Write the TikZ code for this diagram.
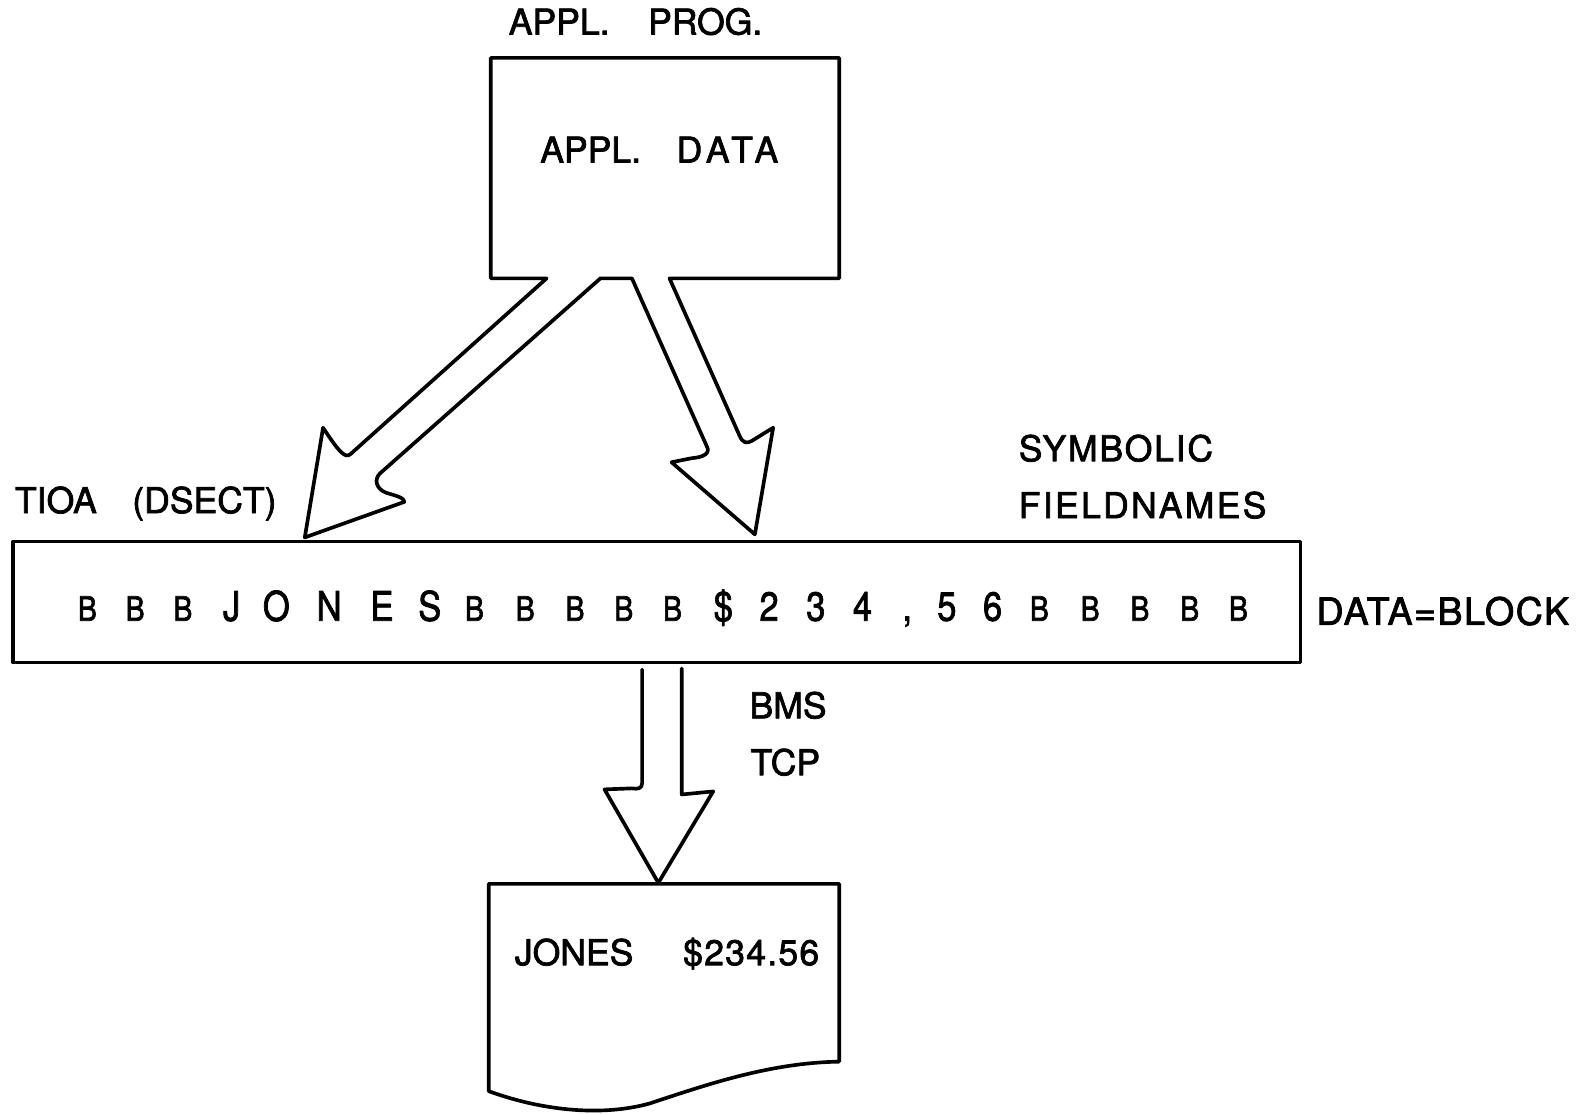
\documentclass[tikz,border=0pt]{standalone}
\usepackage{fontspec}
\setmainfont{TeX Gyre Heros}[FakeBold=2]
\usepackage{graphicx}
\newcommand{\spaced}[2]{{\addfontfeature{LetterSpace=#1}#2}}
\begin{document}
\begin{tikzpicture}[x=0.5pt,y=-0.5pt,line width=1.8pt,line join=round,line cap=round,
  lbl/.style={font=\fontsize{17.5}{20}\selectfont,inner sep=0pt,anchor=base west},
  bigch/.style={font=\fontsize{20}{22}\selectfont,inner sep=0pt,anchor=base},
  smallch/.style={font=\fontsize{16.5}{18}\selectfont,inner sep=0pt,anchor=base}]
\useasboundingbox[fill=white] (0,0) rectangle (1568,1096);

% application program box with the two hollow arrows leaving its bottom edge
\draw (538,274) -- (483,274) -- (483,57) -- (826,57) -- (826,274) -- (659,274)
  -- (728,429) .. controls (731,436) and (735,437) .. (740,434) -- (761,421)
  -- (743,526) -- (661,455) -- (681,451) .. controls (693,450) and (699,446) .. (696,440)
  -- (622,274) -- (591,274)
  -- (374,466) .. controls (368,472) and (370,481) .. (380,485)
  .. controls (390,488) and (398,490) .. (398,494)
  -- (300,529) -- (318,421) .. controls (335,447) and (340,451) .. (345,447) -- cycle;
\node[lbl] (progtitle) at (499,34) {APPL.\hspace{19pt}PROG.};
\node[lbl] (appldata) at (530,160) {APPL.\hspace{17.5pt}\spaced{14}{DATA}};

% data block
\draw (13,533) rectangle (1280,652);
\node[lbl] (tioa) at (13,505) {TIOA\hspace{17.5pt}(DSECT)};
\node[lbl] (symb) at (1001,454) {\spaced{5}{SYMBOLIC}};
\node[lbl] (fields) at (1001,510) {\spaced{6.5}{FIELDNAMES}};
\node[lbl,font=\fontsize{18.5}{20}\selectfont] (datablock) at (1294,615) {\spaced{4}{DATA=BLOCK}};
\foreach \xx [count=\i] in {86,133,180,467,517,566,614,662,1023,1073,1122,1171,1219}
  \node[smallch] (sb\i) at (\xx,611) {\scalebox{0.85}[1]{B}};
\foreach \xx/\ch [count=\i] in {228/J,272/O,324/N,376/E,423/S,712/\$,757/2,803/3,849/4,893/{,},932/5,977/6}
  \node[bigch] (bc\i) at (\xx,611) {\scalebox{0.85}[1]{\ch}};

% hollow arrow down to the screen
\draw (632,659) -- (632,771) .. controls (632,776) and (628,777) .. (622,776) -- (595,777)
  -- (648,869) -- (702,779) -- (671,782) -- (671,658);
\node[lbl] (bms) at (736,707) {BMS};
\node[lbl] (tcp) at (737,763) {TCP};

% screen / document
\draw (481,870) -- (826,870) -- (826,1045)
  .. controls (760,1046) and (700,1066) .. (640,1086)
  .. controls (590,1100) and (530,1092) .. (481,1074) -- cycle;
\node[lbl] (screen) at (505,950) {JONES\hspace{24.5pt}\spaced{3.5}{\$234.56}};
\end{tikzpicture}
\end{document}
